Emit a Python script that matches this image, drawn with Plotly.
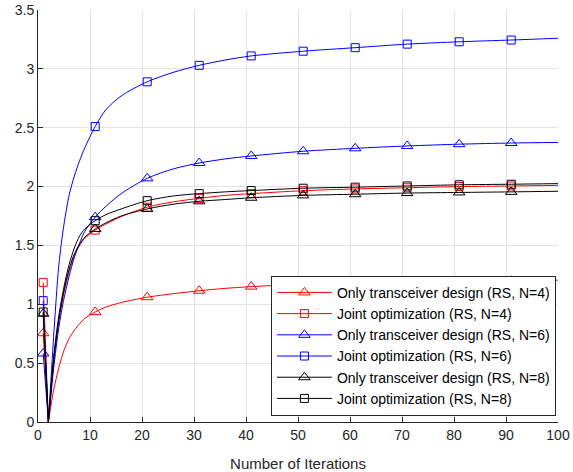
import plotly.graph_objects as go

iterations = [1, 2, 3, 4, 5, 6, 7, 8, 9, 11, 13, 16, 21, 26, 31, 36, 41, 51, 61, 71, 81, 91, 100]
marker_iterations = [1, 11, 21, 31, 41, 51, 61, 71, 81, 91]

only_rs_n4 = [0.754, 0, 0.27, 0.46, 0.61, 0.71, 0.78, 0.835, 0.88, 0.935, 0.975, 1.015, 1.06, 1.09, 1.115, 1.135, 1.15, 1.17, 1.18, 1.19, 1.195, 1.20, 1.205]
joint_rs_n4 = [1.186, 0, 0.50, 0.85, 1.10, 1.28, 1.41, 1.50, 1.56, 1.63, 1.68, 1.745, 1.825, 1.87, 1.90, 1.925, 1.94, 1.965, 1.98, 1.99, 2.0, 2.005, 2.01]
only_rs_n6 = [0.582, 0, 0.45, 0.80, 1.05, 1.24, 1.40, 1.52, 1.62, 1.74, 1.83, 1.94, 2.07, 2.15, 2.20, 2.235, 2.26, 2.30, 2.325, 2.345, 2.36, 2.37, 2.375]
joint_rs_n6 = [1.031, 0, 0.72, 1.33, 1.68, 1.93, 2.09, 2.22, 2.33, 2.51, 2.65, 2.77, 2.89, 2.97, 3.03, 3.075, 3.11, 3.15, 3.18, 3.21, 3.23, 3.245, 3.26]
only_rs_n8 = [0.92, 0, 0.52, 0.87, 1.12, 1.30, 1.43, 1.51, 1.57, 1.64, 1.69, 1.75, 1.81, 1.85, 1.875, 1.89, 1.905, 1.925, 1.935, 1.945, 1.95, 1.955, 1.96]
joint_rs_n8 = [0.935, 0, 0.55, 0.90, 1.15, 1.34, 1.48, 1.58, 1.64, 1.71, 1.76, 1.81, 1.88, 1.92, 1.94, 1.955, 1.966, 1.986, 1.995, 2.005, 2.015, 2.02, 2.025]

series_names = [
    "Only transceiver design (RS, N=4)",
    "Joint optimization (RS, N=4)",
    "Only transceiver design (RS, N=6)",
    "Joint optimization (RS, N=6)",
    "Only transceiver design (RS, N=8)",
    "Joint optimization (RS, N=8)",
]
series_values = [only_rs_n4, joint_rs_n4, only_rs_n6, joint_rs_n6, only_rs_n8, joint_rs_n8]
series_colors = ["#ff0000", "#ff0000", "#0000ff", "#0000ff", "#000000", "#000000"]
series_symbols = ["triangle-up-open", "square-open", "triangle-up-open", "square-open", "triangle-up-open", "square-open"]
series_sizes = [10, 8, 10, 8, 10, 8]

FONT = "Liberation Sans, Arial, Helvetica, sans-serif"

fig = go.Figure()

for name, vals, col, sym, sz in zip(series_names, series_values, series_colors, series_symbols, series_sizes):
    # drop segment (iteration 1 -> 2)
    fig.add_trace(go.Scatter(x=iterations[:2], y=vals[:2], mode="lines",
                             line=dict(color=col, width=1), showlegend=False, hoverinfo="skip"))
    # smooth rise
    fig.add_trace(go.Scatter(x=iterations[1:], y=vals[1:], mode="lines",
                             line=dict(color=col, width=1, shape="spline", smoothing=0.8),
                             showlegend=False, name=name))
    # markers
    lookup = dict(zip(iterations, vals))
    fig.add_trace(go.Scatter(x=marker_iterations, y=[lookup[m] for m in marker_iterations], mode="markers",
                             marker=dict(symbol=sym, size=sz, color=col, line=dict(color=col, width=1)),
                             showlegend=False, name=name))
    # legend entry
    fig.add_trace(go.Scatter(x=[None], y=[None], mode="lines+markers", name=name,
                             line=dict(color=col, width=1),
                             marker=dict(symbol=sym, size=sz, color=col, line=dict(color=col, width=1))))

axis_common = dict(
    showline=True, linecolor="#262626", linewidth=1,
    ticks="inside", ticklen=5, tickcolor="#262626",
    showgrid=True, gridcolor="#e3e3e3", gridwidth=1,
    zeroline=False, mirror=False, automargin=False,
    tickfont=dict(family=FONT, size=14, color="#262626"),
)

fig.update_layout(
    width=573, height=472,
    margin=dict(l=38, r=15, t=10, b=50),
    plot_bgcolor="white", paper_bgcolor="white",
    xaxis=dict(range=[0, 100], dtick=10, tick0=0,
               title=dict(text="Number of Iterations", standoff=16,
                          font=dict(family=FONT, size=15, color="#262626")),
               **axis_common),
    yaxis=dict(range=[0, 3.5], dtick=0.5, tick0=0, **axis_common),
    legend=dict(x=0.996, y=0.015, xanchor="right", yanchor="bottom",
                bgcolor="white", bordercolor="#262626", borderwidth=1,
                font=dict(family=FONT, size=14, color="#000000"),
                tracegroupgap=0, itemwidth=55),
    showlegend=True,
)

fig.write_html("out.html", config={"displayModeBar": False},
               post_script="document.body.style.margin='0';document.body.style.overflow='hidden';")
